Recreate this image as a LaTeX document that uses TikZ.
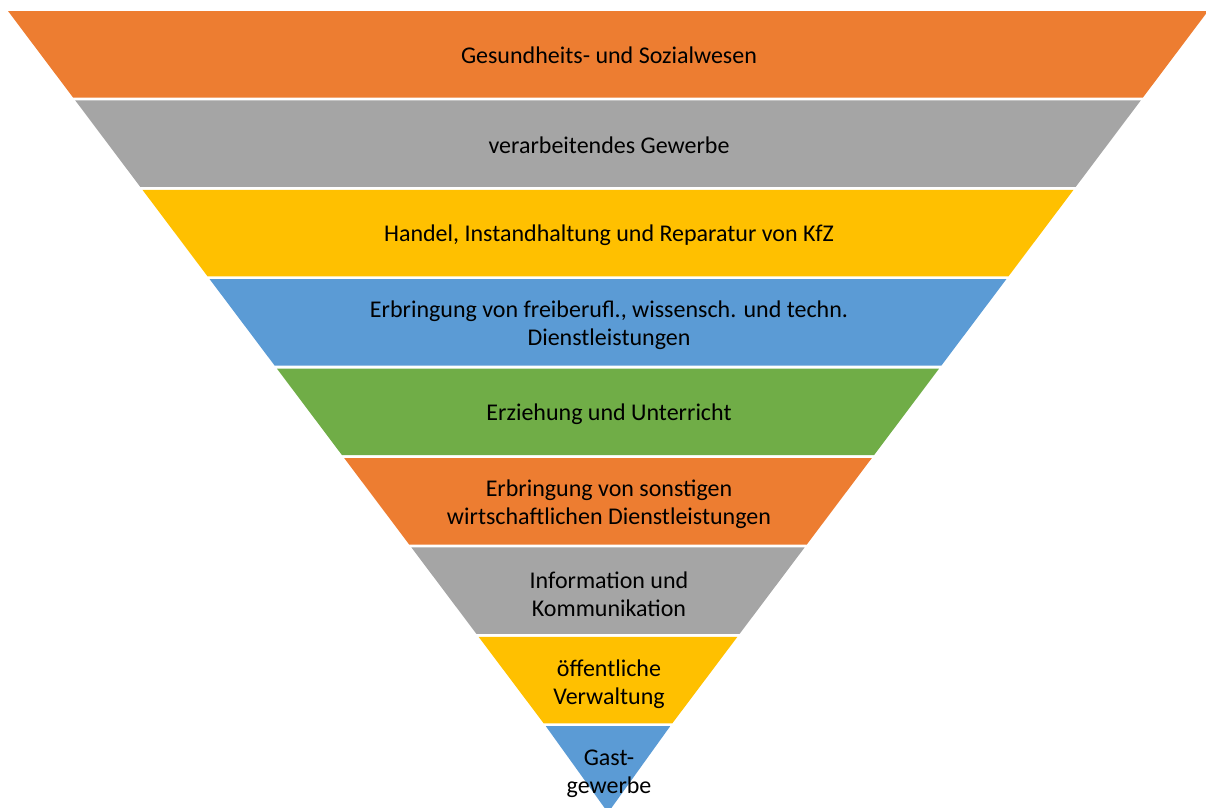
\documentclass[tikz,border=0pt]{standalone}
\usepackage{fontspec}
\setmainfont{Carlito}
\definecolor{tierorange}{HTML}{ED7D31}
\definecolor{tiergray}{HTML}{A5A5A5}
\definecolor{tieryellow}{HTML}{FFC000}
\definecolor{tierblue}{HTML}{5B9BD5}
\definecolor{tiergreen}{HTML}{70AD47}
\begin{document}
\begin{tikzpicture}[x=1pt,y=-1pt,
  tierlabel/.style={align=center,text=black,font=\fontsize{24}{28}\selectfont,inner sep=0pt}]
\useasboundingbox (0,0) rectangle (1206,807);
% inverted funnel: nine horizontal tiers, each narrowing towards the apex
\foreach \i/\col/\txt in {
  0/tierorange/{Gesundheits- und Sozialwesen},
  1/tiergray/{verarbeitendes Gewerbe},
  2/tieryellow/{Handel, Instandhaltung und Reparatur von KfZ},
  3/tierblue/{Erbringung von freiberufl., wissensch. und techn.\\Dienstleistungen},
  4/tiergreen/{Erziehung und Unterricht},
  5/tierorange/{Erbringung von sonstigen\\wirtschaftlichen Dienstleistungen},
  6/tiergray/{Information und\\Kommunikation},
  7/tieryellow/{öffentliche\\Verwaltung},
  8/tierblue/{Gast-\\gewerbe}} {
  \pgfmathsetmacro\yt{11+89.4*\i}
  \pgfmathsetmacro\yb{\yt+86.5}
  \pgfmathsetmacro\wt{600-0.752*(\yt-11)}
  \pgfmathsetmacro\wb{max(600-0.752*(\yb-11),0)}
  \pgfmathsetmacro\yc{(\yt+\yb)/2+1+0.45*\i}
  \fill[\col] (608-\wt,\yt) -- (608+\wt,\yt) -- (608+\wb,\yb) -- (608-\wb,\yb) -- cycle;
  \node[tierlabel] (tier\i) at (609,\yc) {\txt};
}
\end{tikzpicture}
\end{document}
